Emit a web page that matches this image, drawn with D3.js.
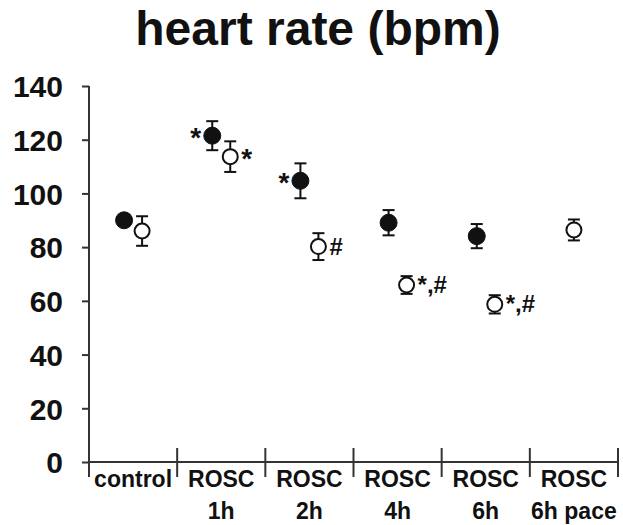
<!DOCTYPE html>
<html>
<head>
<meta charset="utf-8">
<script src="https://cdn.jsdelivr.net/npm/d3@7"></script>
<style>
  body { margin: 0; background: #fff; }
  text { font-family: "Liberation Sans", Arial, sans-serif; font-weight: bold; fill: #111; }
</style>
</head>
<body>
<div id="viz"></div>
<script>
// Datos
const categories = ['control', 'ROSC 1h', 'ROSC 2h', 'ROSC 4h', 'ROSC 6h', 'ROSC 6h pace'];
const catLines = [['control'], ['ROSC', '1h'], ['ROSC', '2h'], ['ROSC', '4h'], ['ROSC', '6h'], ['ROSC', '6h pace']];
const filledMean = [90, 121.5, 104.7, 89.1, 84.1, null];
const filledErr = [2, 5.4, 6.5, 4.7, 4.5, null];
const openMean = [86, 113.7, 80.2, 65.9, 58.7, 86.4];
const openErr = [5.5, 5.7, 5, 3.3, 3.4, 3.9];
const yTicks = [0, 20, 40, 60, 80, 100, 120, 140];
// anotaciones: categoría, serie, texto, lado
const notes = [
  ['ROSC 1h', 'filled', '*', 'left'],
  ['ROSC 1h', 'open', '*', 'right'],
  ['ROSC 2h', 'filled', '*', 'left'],
  ['ROSC 2h', 'open', '#', 'right'],
  ['ROSC 4h', 'open', '*,#', 'right'],
  ['ROSC 6h', 'open', '*,#', 'right']
];

const W = 623, H = 525;
const margin = {top: 86, right: 5, bottom: 63, left: 89};
const height = H - margin.top - margin.bottom;

const svg = d3.select('#viz').append('svg')
  .attr('width', W).attr('height', H);

svg.append('text')
  .attr('x', 318).attr('y', 45)
  .attr('text-anchor', 'middle')
  .style('font-size', '48px')
  .text('heart rate (bpm)');

const g = svg.append('g').attr('transform', 'translate(' + margin.left + ',' + margin.top + ')');

const x = d3.scaleBand().domain(categories).range([0, 529]);
const y = d3.scaleLinear().domain([0, 140]).range([height, 0]);

// Eje Y
const yAxis = g.append('g')
  .call(d3.axisLeft(y).tickValues(yTicks).tickSize(7).tickSizeOuter(0).tickPadding(19));
yAxis.select('.domain').remove();
yAxis.selectAll('line').attr('stroke', '#333').attr('stroke-width', 2);
yAxis.selectAll('text').style('font-size', '30px').style('font-family', '"Liberation Sans", Arial, sans-serif').attr('dy', '0.36em');
g.append('line').attr('x1', 0).attr('x2', 0).attr('y1', 0).attr('y2', height + 15)
  .attr('stroke', '#333').attr('stroke-width', 2);

// Eje X
g.append('line').attr('x1', 0).attr('x2', x.range()[1]).attr('y1', height).attr('y2', height)
  .attr('stroke', '#333').attr('stroke-width', 2);
categories.forEach(function(c) {
  const xe = x(c) + x.bandwidth();
  g.append('line').attr('x1', xe).attr('x2', xe).attr('y1', height - 14).attr('y2', height + 15)
    .attr('stroke', '#333').attr('stroke-width', 2);
});
catLines.forEach(function(lines, i) {
  const t = g.append('text')
    .attr('x', x(categories[i]) + x.bandwidth() / 2)
    .attr('y', height + 25)
    .attr('text-anchor', 'middle')
    .style('font-size', '23px');
  lines.forEach(function(l, j) {
    t.append('tspan').attr('x', x(categories[i]) + x.bandwidth() / 2)
      .attr('dy', j === 0 ? '0' : '32').text(l);
  });
});

// Posición horizontal de cada serie
function px(i, series) {
  const c = x(categories[i]) + x.bandwidth() / 2;
  if (filledMean[i] === null || openMean[i] === null) return c;
  return series === 'filled' ? c - 9 : c + 9;
}

function drawSeries(means, errs, series) {
  means.forEach(function(m, i) {
    if (m === null) return;
    const cx = px(i, series);
    const e = errs[i];
    const grp = g.append('g');
    grp.append('line').attr('x1', cx).attr('x2', cx).attr('y1', y(m + e)).attr('y2', y(m - e))
      .attr('stroke', '#111').attr('stroke-width', 2);
    [m + e, m - e].forEach(function(v) {
      grp.append('line').attr('x1', cx - 6).attr('x2', cx + 6).attr('y1', y(v)).attr('y2', y(v))
        .attr('stroke', '#111').attr('stroke-width', 2);
    });
    grp.append('circle').attr('cx', cx).attr('cy', y(m)).attr('r', series === 'filled' ? 8.5 : 7.5)
      .attr('fill', series === 'filled' ? '#111' : '#fff')
      .attr('stroke', '#111').attr('stroke-width', series === 'filled' ? 1 : 2);
  });
}
drawSeries(filledMean, filledErr, 'filled');
drawSeries(openMean, openErr, 'open');

// Anotaciones
notes.forEach(function(n) {
  const i = categories.indexOf(n[0]);
  const m = n[1] === 'filled' ? filledMean[i] : openMean[i];
  const cx = px(i, n[1]);
  g.append('text')
    .attr('x', n[3] === 'left' ? cx - 11 : cx + 11)
    .attr('y', y(m) + (n[2] === '*' ? 11 : 8))
    .attr('text-anchor', n[3] === 'left' ? 'end' : 'start')
    .style('font-size', n[2] === '*' ? '28px' : '24px')
    .text(n[2]);
});
</script>
</body>
</html>
